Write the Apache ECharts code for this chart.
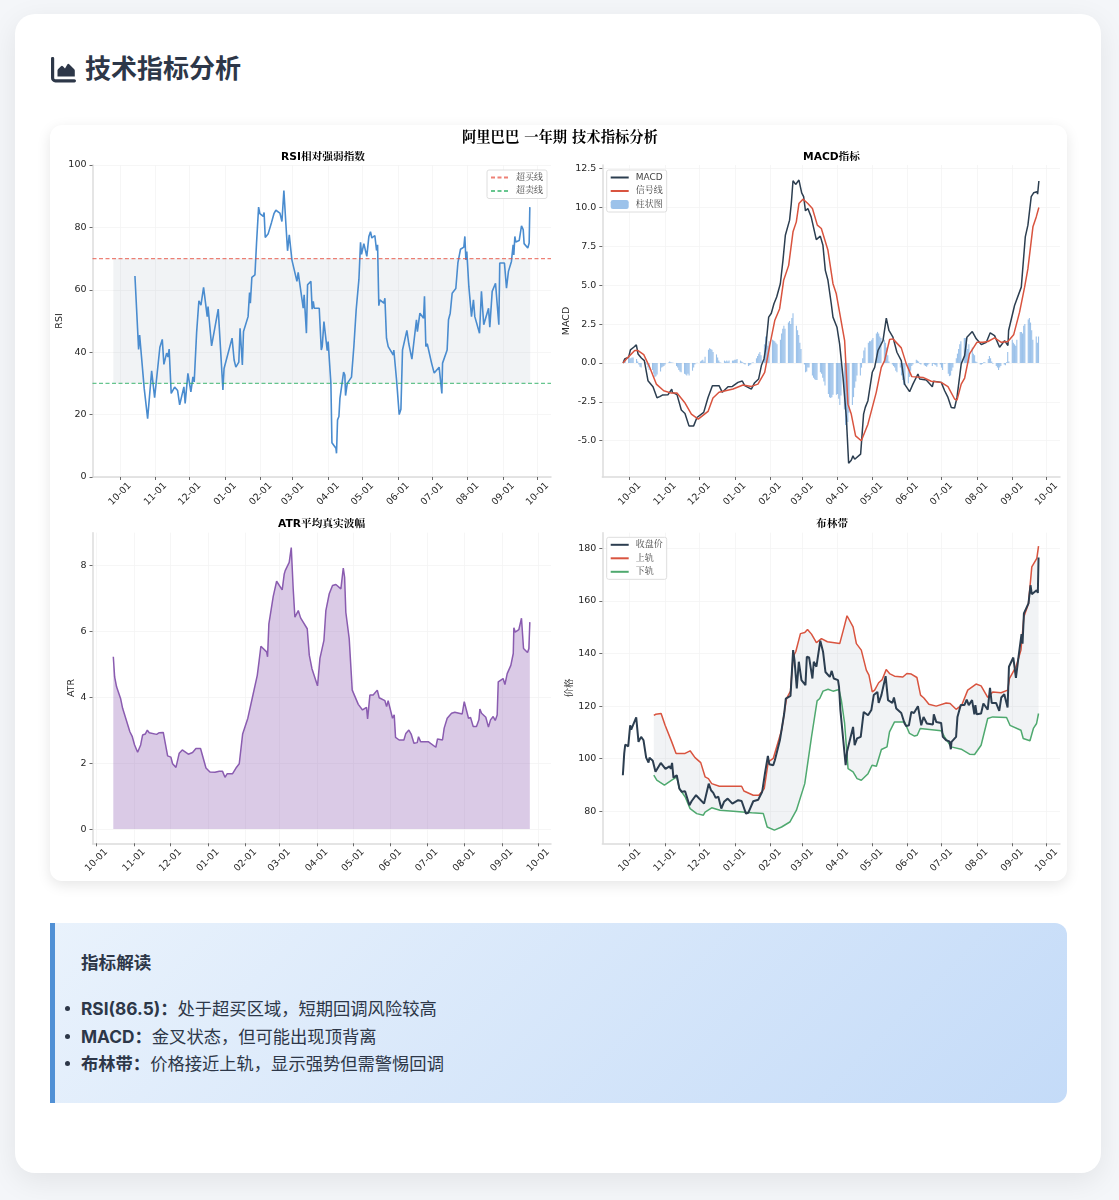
<!DOCTYPE html>
<html lang="zh-CN"><head><meta charset="utf-8">
<script src="https://cdn.jsdelivr.net/npm/echarts@6/dist/echarts.min.js"></script>
<style>
*{box-sizing:border-box;margin:0;padding:0}
html,body{width:1119px;height:1200px;background:#f4f6f9;overflow:hidden;font-family:Inter,"Noto Sans CJK SC",sans-serif}
#panel{position:absolute;left:15px;top:14px;width:1086px;height:1159px;background:#fff;border-radius:20px;box-shadow:0 8px 30px rgba(0,0,0,.08)}
#head{position:absolute;left:85px;top:51px;font-size:26px;line-height:36px;font-weight:700;color:#2d3748}
#icon{position:absolute;left:50px;top:57px;width:26px;height:26px}
#card{position:absolute;left:50px;top:125px;width:1017px;height:756px;background:#fff;border-radius:12px;box-shadow:0 4px 14px rgba(0,0,0,.1);overflow:hidden}
#main{width:1017px;height:756px}
#note{position:absolute;left:50px;top:923px;width:1017px;height:180px;border-left:5px solid #5090d5;border-radius:0 12px 12px 0;background:linear-gradient(135deg,#e9f2fc,#c4dbf8);color:#2d3748}
#note h3{position:absolute;left:26px;top:27px;font-size:17.6px;line-height:26px;font-weight:700}
#note ul{position:absolute;left:26px;top:72px;list-style:none}
#note li{position:relative;font-size:17.3px;line-height:27.5px;white-space:nowrap}
#note li:before{content:"";position:absolute;left:-16px;top:11px;width:5px;height:5px;border-radius:50%;background:#2d3748}
</style></head><body>
<div id="panel"></div>
<svg id="icon" viewBox="0 0 26 26"><path fill="#2d3748" d="M1 1.500a1.600 1.600 0 0 1 3.200 0V21a1.200 1.200 0 0 0 1.200 1.200h19a1.600 1.600 0 0 1 0 3.200H5.400A4.400 4.400 0 0 1 1 21zM7.500 19.500V13.500q0-1 .7-1.600L11 9.200q1-.9 1.900.1L15 11.500l2.300-4q.8-1.100 1.900-.3L24 12q.8.700.8 1.600v5.900z"/></svg>
<div id="head">技术指标分析</div>
<div id="card"><div id="main"></div></div>
<div id="note"><h3>指标解读</h3><ul>
<li><b>RSI(86.5)：</b>处于超买区域，短期回调风险较高</li>
<li><b>MACD：</b>金叉状态，但可能出现顶背离</li>
<li><b>布林带：</b>价格接近上轨，显示强势但需警惕回调</li>
</ul></div>
<script>
const suptitle='阿里巴巴 一年期 技术指标分析';
const panelTitles=['RSI相对强弱指数','MACD指标','ATR平均真实波幅','布林带'];
const monthStartDays=[0,31,61,92,123,151,182,212,243,273,304,335,365];
const rsiTicks=[0,20,40,60,80,100];
const macdTicks=[-5,-2.5,0,2.5,5,7.5,10,12.5];
const atrTicks=[0,2,4,6,8];
const bollTicks=[80,100,120,140,160,180];
const rsiLevels=[70,30];
// [days after 10-01, value]
const rsiPoints=[[13.1,64.4],[16.3,40.9],[17.2,45.5],[21.2,28.4],[22,28.2],[24.2,18.7],[27.7,34],[30.3,25.4],[34.9,41.6],[36,41],[37,44.1],[38.4,36.1],[40.8,39.7],[42,38.5],[43,41],[44.8,26.8],[47.8,28.8],[50.4,27.7],[52.2,23.1],[55.9,28.9],[57,23.6],[59.4,33.2],[62,27.3],[63.8,32.1],[64.9,30.5],[67,46.2],[69,56.5],[70.8,55.1],[73.1,60.8],[76.3,51.4],[77,54.6],[80.1,42],[85.9,53.8],[90,27.9],[91,34.8],[98,44.5],[99.8,37.5],[101.3,35.2],[103.9,36.8],[105,47.7],[107,35.9],[108,46.6],[112,51.4],[113.3,59.1],[114,55.7],[115.3,64],[118,64.8],[119.4,75],[121.2,86.5],[122.3,84.4],[125.3,83.5],[126,84.8],[127,76.8],[129.6,78],[132.5,81.6],[134.6,84.4],[136.3,85.5],[139.8,84.6],[141.6,81.9],[143.3,91.8],[145,81.4],[146.5,72.5],[148,77.6],[150.3,69.6],[154.7,62.7],[155.8,65.6],[160.2,54.1],[161,58.4],[163,46.1],[164,61.6],[166.9,62.7],[168,53.8],[169,56.3],[169.8,54.1],[174.2,54.1],[176,40.7],[176.8,41.8],[178.3,49.8],[181.2,40.5],[182,43.4],[184.4,30],[185.3,11],[188.8,9.2],[189.3,7.6],[190.2,18.3],[191.4,19.4],[192.3,25.2],[195.5,33.6],[196.6,32.7],[197.2,26.1],[198.7,30],[202.4,32],[204.5,42],[205.4,42.4],[206.5,53.6],[208.9,63.4],[210.3,75.2],[211.2,71.4],[213.2,74.8],[215.8,70.7],[217.6,77.1],[219,78.6],[220.2,76.6],[222.8,77.4],[224.3,72.6],[225.2,74.4],[226.3,54.9],[227.2,56.8],[230.7,55.7],[231.6,57.3],[233,44.5],[234.5,41.8],[238.9,39.1],[239.4,40.7],[241.8,31.1],[244.1,20],[245.6,21.7],[247,40.7],[248.2,41],[250.8,47],[252.5,42.7],[254,43.1],[255.2,37.8],[259.2,50.4],[260,46.6],[262.2,52.5],[265.4,50.9],[266.2,57.9],[267.4,41.8],[268.6,42.7],[272.4,36.5],[274.7,33.3],[279,35.2],[281.4,26.8],[282,36.5],[286,40.7],[287.2,50.4],[288.7,52.5],[290.4,58.9],[293.6,60.4],[295.4,68.6],[297.7,73],[300.6,73.7],[301.5,77.1],[302.4,69.6],[303.2,72.3],[305,61],[307.3,51.4],[309,56.8],[310.2,51.4],[314.3,46.1],[316,59.5],[318,48.8],[322.2,54.1],[323.3,48],[325.4,59.5],[328.3,62.1],[331.2,48.8],[332,68.6],[336.1,68.6],[337.9,60.5],[339.6,65.9],[342.2,69.1],[343.7,74.4],[344.3,71.2],[345.2,77.1],[346,75.3],[349,75.8],[351,80.5],[352.5,79.3],[353.3,74.8],[356.5,73.4],[357.7,75],[358.3,86.5]];
const macdPoints=[[-5.8,0],[-4.4,.26],[-2.9,.37],[-.9,.37],[.6,.84],[3.5,1.01],[5.8,1.16],[7.3,.58],[10.2,.32],[12.8,.15],[16,-1.14],[20.4,-1.53],[23.9,-2.24],[26.3,-2.17],[28.6,-2.07],[33.6,-2.04],[36.8,-1.68],[37.4,-1.89],[41.4,-2.04],[45.2,-3.03],[48.4,-3.25],[51.9,-4.05],[56,-4.05],[58.9,-3.51],[64.8,-3.18],[68.6,-2.22],[72.4,-1.46],[78.2,-1.46],[81.1,-1.89],[86.1,-1.53],[89.9,-1.51],[94.8,-1.25],[98.6,-1.16],[100.7,-1.46],[106.5,-1.68],[109.4,-1.27],[112.9,-1.03],[115.3,-.17],[117.6,.26],[119,.9],[121.7,2.95],[124,3.2],[126.3,3.81],[128.7,4.24],[131.9,5.1],[134.2,6.6],[136.3,8.22],[140,9.19],[141.5,10.26],[143,11.73],[145.3,11.49],[148.2,11.77],[150.6,10.95],[152.3,10.7],[153.9,9.79],[156,9.94],[158.9,9.4],[163.4,7.94],[166.9,8.16],[169.2,7.57],[171.3,5.96],[173.6,5.32],[176.5,3.81],[178,2.95],[181.5,2.3],[183.8,1.23],[186.8,-.93],[189.7,-3.51],[191.7,-6.46],[194,-6.26],[195.5,-5.98],[197,-6.2],[202.2,-5.87],[204.8,-3.29],[206.3,-2.86],[208.6,-2.43],[212.4,-.6],[214.5,-.28],[217.4,.8],[221.8,1.44],[224.7,2.88],[227,2.09],[230.5,1.66],[234,.69],[237.8,.15],[240.7,-1.36],[245.1,-1.85],[248,-1.36],[252.4,-.71],[253.9,-1.03],[259.7,-1.1],[265,-1.53],[266.1,-1.18],[272.8,-1.25],[275.8,-1.79],[278.7,-2.22],[281.6,-2.86],[284.5,-2.9],[286.6,-2.22],[290.3,-.06],[293.3,.47],[295.3,1.66],[300,2.02],[303.5,1.55],[307.9,1.18],[312.3,1.33],[315.7,1.94],[319.5,1.76],[323.9,1.01],[328.3,1.44],[331.2,1.12],[331.8,2.09],[337,3.7],[342.9,4.88],[346.4,8.11],[348.7,8.87],[351.6,10.7],[353.7,10.95],[356.6,11.02],[357.2,10.87],[358.3,11.71]];
const signalPoints=[[-5.8,0],[-2.9,.26],[0,.47],[4.4,.8],[7.3,.8],[12.3,.54],[17.5,-.28],[23.3,-1.36],[29.8,-1.79],[36.5,-1.94],[41.4,-1.94],[48.1,-2.54],[54,-3.29],[60,-3.62],[68.6,-3.12],[72.9,-2.26],[78.2,-1.89],[90.5,-1.68],[99.2,-1.42],[106.5,-1.51],[112.3,-1.36],[118.2,-.6],[122.6,1.12],[127,2.73],[131.3,3.49],[134.8,5.32],[139.2,6.28],[143,8.44],[145.9,9.08],[148.2,10.26],[151.7,10.54],[156,10.26],[160,9.94],[164.3,8.87],[167.8,8.65],[173.6,7.25],[178,5.1],[180.9,4.45],[188.2,1.44],[191.1,-2.65],[194,-3.29],[197.8,-4.69],[202.8,-5.01],[208.6,-3.94],[215.9,-1.89],[220.3,-.28],[223.2,.15],[227.6,1.51],[230.5,1.55],[237.8,.97],[242.2,-.06],[247,-.88],[256.8,-.93],[264,-1.18],[272.8,-1.25],[278.7,-1.53],[284.5,-2.32],[286.6,-2.39],[290.3,-1.36],[293.3,-.97],[297.6,.58],[304,1.33],[309.3,1.33],[313.7,1.38],[319.5,1.61],[325.4,1.33],[331.2,1.38],[336.2,1.81],[341.4,3.27],[345.8,4.88],[348.7,6.07],[353.1,8.76],[356,9.4],[358.3,10]];
// one value per weekday, starting on 09-25
const histValues=[0,.15,.2,.3,.3,.3,.35,.35,.25,.1,-.1,-.25,-.3,-.05,.05,-.1,-.3,-.45,-.45,-.7,-.9,-.85,-.75,-.55,-.3,-.25,-.2,-.1,.03,.1,.05,.03,.02,-.2,-.3,-.45,-.55,-.6,-.7,-.75,-.8,-.7,-.8,-.5,-.3,-.1,-.02,.02,.1,.15,.2,.1,.4,.85,.95,.9,.85,.7,.55,.35,.15,.05,.02,.15,.1,.15,.1,.15,.15,.15,.2,.2,.25,.15,.1,.05,-.05,-.1,-.2,-.15,-.1,.02,.05,.3,.45,.6,.7,.5,1.2,1.7,1.5,1.1,1.4,1.5,1.45,1.4,1.3,1.2,1.5,1.9,2.2,2.4,2.2,2.6,2.7,2.5,2.9,3.2,2.4,2.1,1.8,1.3,.9,-.1,-.6,-.55,-.3,-.3,-.8,-.95,-1.05,-1.1,-1.1,-.6,-.7,-.95,-1.2,-1.45,-2,-2.2,-2.25,-2.2,-2.05,-2.05,-2,-2.3,-2.7,-2.1,-3,-4,-4.3,-3.8,-3.2,-2.7,-2.2,-1.6,-1.2,-.8,-.8,-.3,.3,.8,1,1.3,1.4,1.4,1.5,1.6,1.9,2,1.9,1.7,1.6,1.5,1.3,1,.5,.1,-.1,-.2,-.3,-.5,-.6,-.3,-.8,-1.1,-1.4,-1.4,-1.3,-.9,-.5,-.2,-.1,.2,.15,.1,-.05,-.1,-.15,-.2,-.25,-.15,-.05,-.2,-.05,-.1,-.15,-.25,-.1,-.3,-.45,-.02,-.05,-.7,-.85,-.8,-.5,-.3,.3,.6,.9,1.2,1.4,1.6,1.6,1.3,.9,1.2,1,.6,.5,.1,.05,-.1,-.1,-.05,.05,.05,.25,.45,.3,.1,-.05,-.2,-.3,-.45,-.3,-.2,-.1,-.15,.05,.7,.1,1.5,1.3,1.2,1.1,1.5,2,2,1.9,2.4,2.5,2.8,2.9,2.6,2.1,1.5,1.7,1.3,1.7];
const atrPoints=[[13.8,5.22],[14.9,4.61],[16.5,4.31],[19.8,3.96],[21.5,3.66],[22.9,3.61],[27.5,2.95],[29.5,2.8],[31.4,2.55],[33.9,2.33],[36.4,2.55],[38,2.85],[40.2,2.88],[41.9,3],[43.5,2.92],[49.6,2.87],[51.8,2.92],[55.1,2.93],[58.7,2.22],[61.4,2.18],[62.8,1.98],[65.6,1.87],[68.3,2.3],[70.8,2.4],[75.8,2.27],[77.1,2.32],[79.3,2.32],[82.1,2.44],[85.9,2.44],[90.4,1.85],[93.7,1.73],[97.8,1.72],[99.2,1.7],[101.4,1.75],[104.1,1.75],[106.1,1.57],[108,1.68],[112.4,1.68],[115.2,1.85],[117.9,1.98],[120.7,2.88],[125,3.36],[128.9,4.01],[132.8,4.66],[134.4,5.12],[135.8,5.54],[140.5,5.37],[141.3,5.22],[142.4,6.22],[146,7.05],[146.8,7.08],[148.8,7.51],[153.4,7.25],[155.1,7.73],[155.9,7.83],[157,7.8],[159.2,8.08],[160.9,8.53],[162.5,7.28],[163.9,6.42],[166.7,6.62],[168.6,6.4],[170,6.39],[174.1,6.07],[175.8,5.27],[176.9,5.22],[178,4.86],[182.6,4.34],[184.6,5.17],[187.9,5.72],[189.5,6.62],[192.3,7.13],[195,7.38],[196.1,7.35],[197.8,7.41],[201.9,7.28],[203.9,7.91],[205,7.63],[206,6.57],[208.8,5.77],[211.3,4.21],[212.7,4.16],[216.3,3.78],[219.8,3.61],[223.1,3.69],[224,3.34],[225,3.39],[225.9,4.06],[228.6,4.06],[232,4.21],[233.6,3.98],[238.3,3.89],[239.7,3.71],[241,3.89],[244.6,3.36],[246,3.46],[247.1,2.78],[250.1,2.7],[254,2.7],[255.6,2.9],[258.1,3],[260,2.88],[262.3,2.6],[265,2.62],[266.1,2.8],[267.8,2.65],[274.1,2.65],[280.4,2.48],[281.8,2.73],[285.9,2.7],[287.3,3.06],[289.8,3.36],[293.4,3.51],[296.1,3.54],[297.5,3.51],[302.2,3.49],[303.9,3.86],[307.4,3.36],[309.1,3.38],[311.3,3.11],[314,3.11],[316,3.31],[316.8,3.64],[318.2,3.51],[321.7,3.39],[323.9,3.09],[325.6,3.31],[327.8,3.41],[329.5,3.29],[331.1,3.46],[332,4.46],[336,4.56],[337.5,4.38],[339.4,4.71],[342.4,4.96],[344.4,5.32],[344.9,6.1],[346,5.97],[349,6.04],[351.2,6.39],[352.1,6.37],[352.9,5.47],[356.2,5.35],[357.3,5.47],[358.1,6.27]];
const closePoints=[[-6,93.7],[-4.8,102],[-3.9,105.4],[-1.3,104.7],[.4,112.7],[1.3,111.1],[5.7,115.7],[7.7,106.4],[10,108.3],[12.1,107],[14.4,100.4],[15.6,100.7],[16.5,98.5],[17.3,100.4],[20.2,99.2],[22.6,95],[27.2,98.4],[31.3,96.1],[34.8,97.1],[36,96.2],[37.1,98.4],[38.3,92.8],[41.2,93.7],[43.5,88.6],[45.6,87.4],[48.5,87.6],[52.3,82.3],[54.3,83.9],[58.1,86.1],[65.1,82.9],[69.2,90.5],[71.2,88],[73.2,87],[75.3,85.1],[77.6,85.5],[80.2,81],[82.6,83.6],[85.8,84.8],[89.9,82.9],[95,84.2],[98,83.9],[101.8,79.1],[103.8,79.4],[108.2,83.8],[112.6,84.4],[116,87.4],[118.4,94.3],[121,101.1],[122.2,97.9],[125.7,97.5],[127.1,99.4],[131.5,107],[135.3,117.2],[136.7,122.9],[140.8,123.9],[143.1,141.3],[144.3,137.5],[146.3,126.7],[148.1,136.9],[150.4,129.9],[153.9,128],[155.1,138.8],[157.1,138.5],[160,130.5],[161.2,136.9],[163.5,135],[166.9,144.9],[169.3,140.7],[171.4,133],[175.2,131.1],[176.9,133.4],[178.7,130.5],[182.4,129.9],[183.3,127.3],[184.5,118.5],[189.1,97.5],[190.3,102.6],[195.6,112.1],[197,105.1],[199.1,107.7],[202.3,108.3],[204.9,117.8],[208.7,116.5],[211.6,118.5],[213.7,124.2],[216.9,125.4],[218,121.2],[220.4,124.2],[224.1,131.4],[225.3,131.8],[226.2,122.3],[230,121.2],[231.4,123.3],[233.4,119.1],[237.8,117.4],[240.7,113.4],[242.2,112.4],[244.5,112.7],[246.6,117.8],[248.9,117.4],[252.4,120],[255.3,112.7],[257.3,115.9],[260.2,113.4],[265.5,113],[266.3,116.9],[268.4,114],[272.7,113.6],[274.2,108.3],[277.1,107],[280,106.6],[281.2,103.6],[281.8,106.4],[285.8,108.3],[287,115.9],[288.2,115.3],[289.9,120.4],[293.1,120.4],[295.1,122.5],[296.9,120.4],[299.8,122.3],[301.8,116.9],[302.7,120.4],[303.9,116.9],[307.7,117.2],[309.7,121],[313.5,118.7],[315.5,127],[317,121.2],[320.8,121.2],[323.6,118.2],[325.4,123.3],[328,124.5],[330.9,119.5],[332.1,135],[335.9,138.5],[338.2,130.8],[340.5,138.8],[343.1,147.4],[344,143.8],[345.2,155.3],[349.2,159.1],[351,166],[352.1,162.6],[356.3,164.1],[357.4,163.1],[358,176.6]];
const upperPoints=[[21.1,116.5],[22.9,116.9],[27.5,117.2],[31,112.7],[36.8,106.4],[40.6,102],[48.5,102],[52.9,103],[57.2,100.4],[62.2,98.5],[66,93.1],[68.9,92.4],[71.8,90.5],[78.5,89.5],[98,89.5],[100,87.7],[108.2,86.1],[113.1,86.1],[117.8,88.6],[121.3,98.8],[125.7,100.1],[133,110.8],[137.3,122.9],[140.8,125.7],[143.1,138.8],[145.4,140.7],[149.5,147.6],[153.3,148],[155.7,149.2],[159.2,147.4],[163.5,144.2],[167.9,145.7],[173.1,144.5],[183.9,143.8],[187.4,149.5],[190.3,154.4],[195.6,150.2],[198.5,143.8],[202.8,141.3],[207.2,133.7],[209.5,131.8],[212.4,125.4],[214.5,126.1],[218,128.9],[221.1,130.1],[224.6,133.9],[227.5,132.4],[231.9,131.4],[239.2,131.1],[242.7,132.4],[246.6,132.2],[251.5,130.9],[254.7,124.2],[257.6,123.1],[262,120.7],[268.4,120],[277.1,121.2],[280.6,121],[285.8,118.8],[290.8,120.4],[296,126.1],[303.3,128.4],[307.7,127.7],[313.5,123.3],[317.9,125.4],[325.2,125.1],[331,126.1],[332.5,130.5],[338.3,135],[342.6,141.3],[345.2,154],[349.2,159.1],[352.1,173],[356.5,176.2],[358,180.9]];
const lowerPoints=[[21.1,93.7],[23.7,91.8],[30.4,89.9],[36.8,91.8],[41.2,93.1],[43.5,88.6],[48.5,85.5],[52.9,81],[58.7,79.1],[64.5,78.5],[66,79.7],[71.8,81.3],[79,80.4],[90.7,80],[106.7,79.4],[117,79.1],[120.4,74],[126.7,72.8],[133,74],[140.2,75.9],[146,80.4],[153.3,90.5],[159.2,108.3],[164.1,122],[166.4,122.9],[169.3,125.7],[173.7,126.4],[178,125.7],[183.3,126.3],[185.3,122.3],[188.2,113.4],[191.2,96.2],[195.6,95],[199.1,92.4],[202.8,91.8],[208.7,94.3],[212.2,97.5],[216,97.1],[220.4,103.5],[225.3,104.5],[227.5,110.2],[231.9,114],[240.7,114],[245,109.6],[249.4,108.6],[251.8,108.9],[254.4,111.5],[272.7,110.6],[275.7,108.3],[281.5,104.5],[290.3,103.6],[297.6,101.7],[302,101.6],[307.7,105.1],[313.5,115.3],[317.9,115.9],[330,115.7],[333,112.7],[342.6,110.8],[344.6,107.7],[350.5,106.8],[353.5,111.5],[356.3,113.4],[358,117.2]];

const DAY=864e5, BASE=Date.UTC(2024,9,1);
const T=d=>BASE+d*DAY;
const pts=a=>a.map(p=>[T(p[0]),p[1]]);
const monthTicks=monthStartDays.map(T);
const font='"DejaVu Sans","Noto Serif CJK SC","Noto Sans CJK SC",serif';
const weekdayDates=[];
for(let t=Date.UTC(2024,8,25);weekdayDates.length<histValues.length;t+=DAY){const w=new Date(t).getUTCDay();if(w>0&&w<6)weekdayDates.push(t);}
const mmdd=v=>{const d=new Date(v);return String(d.getUTCMonth()+1).padStart(2,'0')+'-'+String(d.getUTCDate()).padStart(2,'0');};
const GX=[{left:42.5,width:458.5},{left:552.3,width:457.7}];
const GY=[{top:40,height:312},{top:407.7,height:310.6}];
const grids=[0,1,2,3].map(i=>({...GX[i%2],...GY[i>>1],containLabel:false}));
const GRIDC='#f4f4f4',SPINE='#dcdcdc',TK='#444',TXT='#262626',BAND='rgba(52,73,110,.065)';
function xAx(i,lo,hi){return {type:'value',gridIndex:i,min:T(lo),max:T(hi),
 axisLine:{show:true,onZero:false,lineStyle:{color:SPINE,width:1.5}},
 axisTick:{show:true,customValues:monthTicks,length:3,lineStyle:{color:TK,width:.8}},
 splitLine:{show:true,customValues:monthTicks,lineStyle:{color:GRIDC,width:.8}},
 axisLabel:{customValues:monthTicks,formatter:mmdd,rotate:45,align:'center',verticalAlign:'middle',margin:17,fontSize:9.5,color:TXT,fontFamily:font,hideOverlap:false}};}
function yAx(i,lo,hi,ticks,name,gap,fmt){return {type:'value',gridIndex:i,min:lo,max:hi,name,nameLocation:'middle',nameGap:gap,nameRotate:90,
 nameTextStyle:{fontSize:9.5,color:TXT,fontFamily:font},
 axisLine:{show:true,onZero:false,lineStyle:{color:SPINE,width:1.5}},
 axisTick:{show:true,customValues:ticks,length:3,lineStyle:{color:TK,width:.8}},
 splitLine:{show:true,customValues:ticks,lineStyle:{color:GRIDC,width:.8}},
 axisLabel:{customValues:ticks,formatter:fmt||(v=>String(v)),margin:6,padding:[2,0,0,0],fontSize:9.5,color:TXT,fontFamily:font}};}
function line(name,i,data,color,width,extra){return Object.assign({type:'line',name,xAxisIndex:i,yAxisIndex:i,data,showSymbol:false,symbol:'none',smooth:false,silent:true,animation:false,lineStyle:{color,width},itemStyle:{color}},extra||{});}
const lineEntry=name=>({name,itemStyle:{opacity:0}});
function legend(names,left,top){return {data:names,orient:'vertical',left,top,selectedMode:false,itemWidth:18,itemHeight:9,itemGap:4.5,padding:[3,4,3,3],
 backgroundColor:'rgba(255,255,255,.85)',borderColor:'#dedede',borderWidth:1,borderRadius:2,textStyle:{fontSize:9,color:'#444',fontFamily:font,padding:[0,0,0,2]}};}
function bandRender(params,api){
 const poly=upperPoints.concat(lowerPoints.slice().reverse()).map(p=>api.coord([T(p[0]),p[1]]));
 return {type:'polygon',shape:{points:poly},style:{fill:BAND,stroke:null},silent:true};
}
const x0=[xAx(0,-24,376.8),xAx(1,-24,376.8),xAx(2,-3.4,375.6),xAx(3,-24,376.8)];
const chart=echarts.init(document.getElementById('main'),null,{renderer:'canvas',useUTC:true});
const titleOf=(text,left,top,size)=>({text,left,top,textStyle:{fontSize:size,fontWeight:'bold',color:'#000',fontFamily:font}});
chart.setOption({
 animation:false,useUTC:true,
 title:[titleOf(suptitle,407,1,14.3),titleOf(panelTitles[0],226,22,10.7),titleOf(panelTitles[1],748,22,10.7),titleOf(panelTitles[2],223,389,10.7),titleOf(panelTitles[3],761,389,10.7)],
 grid:grids,
 xAxis:x0,
 yAxis:[yAx(0,0,100,rsiTicks,'RSI',26),
  yAx(1,-7.34,12.74,macdTicks,'MACD',29,v=>v.toFixed(1)),
  yAx(2,-.43,8.98,atrTicks,'ATR',15),
  yAx(3,67.8,186,bollTicks,'价格',27)],
 legend:[legend(['超买线','超卖线'].map(lineEntry),437,45),legend([lineEntry('MACD'),lineEntry('信号线'),'柱状图'],556.7,45),legend(['收盘价','上轨','下轨'].map(lineEntry),556.7,412.3)],
 series:[
  line('RSI',0,pts(rsiPoints),'#4a8ccf',1.6,{z:3,markArea:{silent:true,itemStyle:{color:BAND},data:[[{xAxis:T(-5.8),yAxis:rsiLevels[1]},{xAxis:T(358.6),yAxis:rsiLevels[0]}]]}}),
  line('超买线',0,[[T(-24),rsiLevels[0]],[T(376.8),rsiLevels[0]]],'rgba(231,76,60,.7)',1.2,{lineStyle:{color:'rgba(231,76,60,.7)',width:1.2,type:[4,2.5]}}),
  line('超卖线',0,[[T(-24),rsiLevels[1]],[T(376.8),rsiLevels[1]]],'rgba(39,174,96,.7)',1.2,{lineStyle:{color:'rgba(39,174,96,.7)',width:1.2,type:[4,2.5]}}),
  {type:'bar',name:'柱状图',xAxisIndex:1,yAxisIndex:1,data:histValues.map((v,i)=>[weekdayDates[i],v]),barWidth:1.1,silent:true,itemStyle:{color:'rgba(74,144,217,.55)'}},
  line('MACD',1,pts(macdPoints),'#2c3e50',1.5,{z:3}),
  line('信号线',1,pts(signalPoints),'#d9543f',1.5,{z:4}),
  line('ATR',2,pts(atrPoints),'#8a5cb0',1.5,{areaStyle:{color:'rgba(142,94,178,.33)',opacity:1}}),
  {type:'custom',name:'带',xAxisIndex:3,yAxisIndex:3,coordinateSystem:'cartesian2d',renderItem:bandRender,data:[[T(upperPoints[0][0]),upperPoints[0][1]]],silent:true,z:1},
  line('上轨',3,pts(upperPoints),'#d9543f',1.5,{z:3}),
  line('下轨',3,pts(lowerPoints),'#4fa96f',1.5,{z:3}),
  line('收盘价',3,pts(closePoints),'#2c3e50',2,{z:4})
 ]
});
</script></body></html>
